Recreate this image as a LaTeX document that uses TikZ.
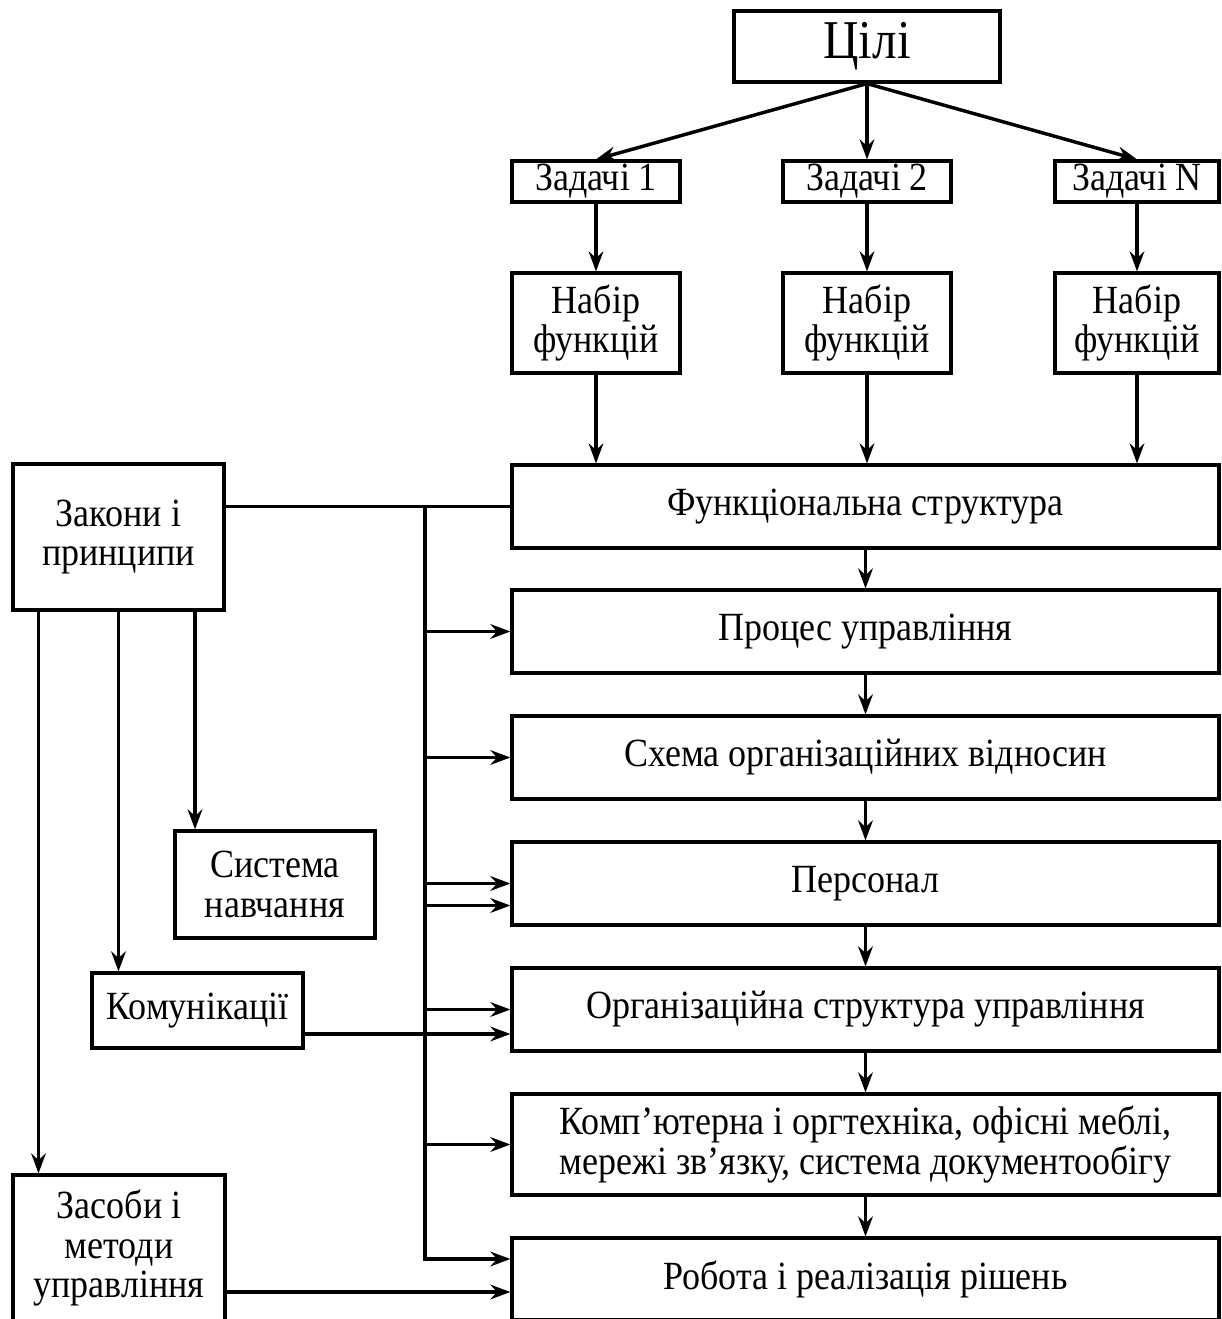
\documentclass[tikz,border=0pt]{standalone}
\usepackage{fontspec}
\setmainfont{Liberation Serif}[FakeStretch=0.9]
\usetikzlibrary{arrows.meta}

\tikzset{
  blok/.style={draw, rectangle, inner sep=0pt, align=center, line width=2.4pt, font=\fontsize{30}{29.5}\selectfont},
  strilka/.style={line width=2.6pt, -{Stealth[length=15pt,width=11pt,inset=5pt]}},
  liniya/.style={line width=2.6pt}
}

\begin{document}
\begin{tikzpicture}[x=0.75pt,y=0.75pt,yscale=-1,xscale=1]
	\useasboundingbox (0,0) rectangle (1221,1319);

	% Text Node
	\node[blok, minimum width=199.5pt, minimum height=53.25pt, font=\fontsize{41}{44}\selectfont] (goal) at (867,46.5) {Цілі};
	% Text Node
	\node[blok, minimum width=126pt, minimum height=30.75pt] (task1) at (596,181.5) {Задачі 1};
	% Text Node
	\node[blok, minimum width=126pt, minimum height=30.75pt] (task2) at (867,181.5) {Задачі 2};
	% Text Node
	\node[blok, minimum width=123pt, minimum height=30.75pt] (taskN) at (1137,181.5) {Задачі N};
	% Text Node
	\node[blok, minimum width=126pt, minimum height=75pt] (set1) at (596,323) {Набір\\функцій};
	% Text Node
	\node[blok, minimum width=126pt, minimum height=75pt] (set2) at (867,323) {Набір\\функцій};
	% Text Node
	\node[blok, minimum width=123pt, minimum height=75pt] (setN) at (1137,323) {Набір\\функцій};

	% Text Node
	\node[blok, minimum width=530.25pt, minimum height=62.25pt] (func) at (865.5,506.5) {Функціональна структура};
	% Text Node
	\node[blok, minimum width=530.25pt, minimum height=62.25pt] (proc) at (865.5,631.5) {Процес управління};
	% Text Node
	\node[blok, minimum width=530.25pt, minimum height=62.25pt] (scheme) at (865.5,757.5) {Схема організаційних відносин};
	% Text Node
	\node[blok, minimum width=530.25pt, minimum height=62.25pt] (staff) at (865.5,883.5) {Персонал};
	% Text Node
	\node[blok, minimum width=530.25pt, minimum height=62.25pt] (orgstr) at (865.5,1009.5) {Організаційна структура управління};
	% Text Node
	\node[blok, minimum width=530.25pt, minimum height=75.75pt] (tech) at (865.5,1144.5) {Комп’ютерна і оргтехніка, офісні меблі,\\мережі зв’язку, система документообігу};
	% Text Node
	\node[blok, minimum width=530.25pt, minimum height=61.5pt] (work) at (865.5,1279) {Робота і реалізація рішень};

	% Text Node
	\node[blok, minimum width=158.25pt, minimum height=109.5pt] (laws) at (118.5,537) {Закони і\\принципи};
	% Text Node
	\node[blok, minimum width=150pt, minimum height=80.25pt] (train) at (275,884.5) {Система\\навчання};
	% Text Node
	\node[blok, minimum width=158.25pt, minimum height=56.25pt] (comm) at (197.5,1010.5) {Комунікації};
	% Text Node
	\node[blok, minimum width=159pt, minimum height=109.5pt] (means) at (119,1248) {Засоби і\\методи\\управління};

	%Straight Lines
	\draw[strilka] (goal.south) -- (task1.north);
	\draw[strilka] (goal.south) -- (task2.north);
	\draw[strilka] (goal.south) -- (taskN.north);
	\foreach \i in {1,2,N} {
		\draw[strilka] (task\i.south) -- (set\i.north);
		\draw[strilka] (set\i.south) -- (set\i.south |- func.north);
	}
	\foreach \a/\b in {func/proc,proc/scheme,scheme/staff,staff/orgstr,orgstr/tech,tech/work}
		\draw[strilka] (\a.south) -- (\b.north);

	%Straight Lines
	\coordinate (bus) at (425,506.5);
	\draw[liniya] (laws.east |- func.west) -- (func.west);
	\draw[strilka] (bus) |- ([yshift=-15pt]work.west);
	\foreach \n in {proc,scheme,staff,orgstr,tech}
		\draw[strilka] (bus |- \n.west) -- (\n.west);
	\draw[strilka] ([yshift=16.5pt]staff.west -| bus) -- ([yshift=16.5pt]staff.west);
	\draw[strilka] ([yshift=17.6pt]comm.east) -- ([yshift=17.6pt]comm.east -| orgstr.west);
	\draw[strilka] ([yshift=33pt]means.east) -- ([yshift=33pt]means.east -| work.west);

	%Straight Lines
	\draw[strilka] ([xshift=-60pt]laws.south) -- ([xshift=-60pt]laws.south |- means.north);
	\draw[strilka] (laws.south) -- (laws.south |- comm.north);
	\draw[strilka] ([xshift=57.4pt]laws.south) -- ([xshift=57.4pt]laws.south |- train.north);

\end{tikzpicture}
\end{document}
